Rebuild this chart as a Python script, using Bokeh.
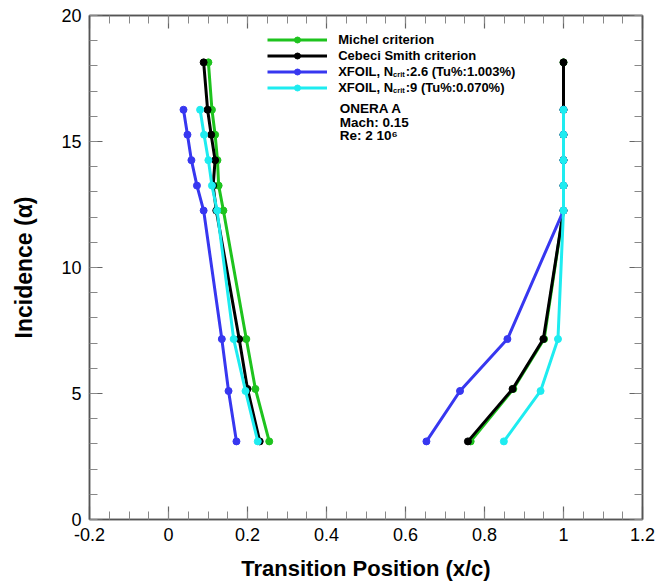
from bokeh.plotting import figure
from bokeh.models import Legend, LegendItem, LinearAxis, FixedTicker, Label, Range1d
from bokeh.embed import file_html
from bokeh.resources import INLINE

# ---------------- data ----------------
alpha_full = [18.14, 16.26, 15.27, 14.26, 13.25, 12.26, 7.16, 5.18, 3.10]
alpha_xfoil = [16.26, 15.27, 14.26, 13.25, 12.26, 7.16, 5.10, 3.10]

michel_left = [0.101, 0.110, 0.118, 0.124, 0.127, 0.139, 0.197, 0.220, 0.255]
michel_right = [1.0, 1.0, 1.0, 1.0, 1.0, 1.0, 0.951, 0.873, 0.765]

cebeci_left = [0.089, 0.099, 0.108, 0.118, 0.113, 0.121, 0.179, 0.200, 0.231]
cebeci_right = [1.0, 1.0, 1.0, 1.0, 1.0, 1.0, 0.949, 0.871, 0.758]

xf26_left = [0.038, 0.048, 0.058, 0.072, 0.089, 0.135, 0.152, 0.172]
xf26_right = [1.0, 1.0, 1.0, 1.0, 1.0, 0.858, 0.738, 0.653]

xf9_left = [0.080, 0.090, 0.101, 0.110, 0.123, 0.165, 0.195, 0.226]
xf9_right = [1.0, 1.0, 1.0, 1.0, 1.0, 0.986, 0.942, 0.849]

x_ticks = [-0.2, 0, 0.2, 0.4, 0.6, 0.8, 1, 1.2]
x_tick_labels = ["-0.2", "0", "0.2", "0.4", "0.6", "0.8", "1", "1.2"]
y_ticks = [0, 5, 10, 15, 20]
y_tick_labels = ["0", "5", "10", "15", "20"]

# legend text: (main, subscript, rest)
series = [
    ("Michel criterion", "", "", "#1ec31e", alpha_full, michel_left, alpha_full, michel_right),
    ("Cebeci Smith criterion", "", "", "#000000", alpha_full, cebeci_left, alpha_full, cebeci_right),
    ("XFOIL, N", "crit", ":2.6 (Tu%:1.003%)", "#3737f0", alpha_xfoil, xf26_left, alpha_xfoil, xf26_right),
    ("XFOIL, N", "crit", ":9 (Tu%:0.070%)", "#1eecf0", alpha_xfoil, xf9_left, alpha_xfoil, xf9_right),
]
info = ["ONERA A", "Mach: 0.15", "Re: 2 10\u2076"]

FONT = "Liberation Sans"
FRAME = "#555555"

p = figure(width=658, height=586, output_backend="svg", toolbar_location=None,
           x_range=Range1d(-0.2, 1.2), y_range=Range1d(0, 20),
           min_border_left=89, min_border_right=16, min_border_top=15, min_border_bottom=67)
p.xgrid.visible = False
p.ygrid.visible = False
p.outline_line_color = FRAME
p.outline_line_width = 1.5
p.background_fill_color = "white"
p.border_fill_color = "white"

x_minor = [round(-0.2 + 0.05 * i, 2) for i in range(29)]
y_minor = list(range(0, 21))


def style_axis(ax, show_labels=True):
    ax.axis_line_color = FRAME
    ax.axis_line_width = 1.5
    ax.major_tick_in = 13
    ax.major_tick_out = 0
    ax.minor_tick_in = 8
    ax.minor_tick_out = 0
    ax.major_tick_line_color = "#666666"
    ax.minor_tick_line_color = "#888888"
    ax.major_tick_line_width = 1.2
    ax.minor_tick_line_width = 1
    if show_labels:
        ax.major_label_text_font = FONT
        ax.major_label_text_font_size = "18px"
        ax.major_label_text_color = "#000000"
        ax.major_label_standoff = 8
        ax.axis_label_text_font = FONT
        ax.axis_label_text_font_style = "bold"
        ax.axis_label_text_font_size = "22px"
        ax.axis_label_text_color = "#000000"
    else:
        ax.major_label_text_font_size = "1px"
        ax.major_label_text_alpha = 0
        ax.major_label_standoff = 0


xa = p.xaxis[0]
xa.ticker = FixedTicker(ticks=x_ticks, minor_ticks=x_minor)
xa.major_label_overrides = dict(zip(x_ticks, x_tick_labels))
xa.axis_label = "Transition Position (x/c)"
style_axis(xa)
xa.axis_label_standoff = 12

ya = p.yaxis[0]
ya.ticker = FixedTicker(ticks=y_ticks, minor_ticks=y_minor)
ya.major_label_overrides = dict(zip(y_ticks, y_tick_labels))
ya.axis_label = "Incidence (\u03b1)"
style_axis(ya)
ya.axis_label_text_font_size = "23px"
ya.axis_label_standoff = 21

top = LinearAxis(ticker=FixedTicker(ticks=x_ticks, minor_ticks=x_minor))
style_axis(top, show_labels=False)
p.add_layout(top, "above")
right = LinearAxis(ticker=FixedTicker(ticks=y_ticks, minor_ticks=y_minor))
style_axis(right, show_labels=False)
p.add_layout(right, "right")

items = []
for main, sub, rest, color, al, xl, ar, xr in series:
    l1 = p.line(xl, al, line_color=color, line_width=3)
    s1 = p.scatter(xl, al, size=7, fill_color=color, line_color=color)
    p.line(xr, ar, line_color=color, line_width=3)
    p.scatter(xr, ar, size=7, fill_color=color, line_color=color)
    items.append(LegendItem(label=main + sub + rest, renderers=[l1, s1]))

# legend: glyph samples drawn by Bokeh's Legend, texts drawn as labels
legend = Legend(items=items, location=(178, 424))
legend.glyph_width = 60
legend.glyph_height = 15
legend.label_height = 15
legend.spacing = 1
legend.padding = 0
legend.margin = 0
legend.label_standoff = 10
legend.border_line_color = None
legend.background_fill_alpha = 0
legend.label_text_alpha = 0
legend.label_text_font_size = "12px"
p.add_layout(legend)

PX_X = 1.4 / 553.0   # data units per pixel (x)
PX_Y = 20.0 / 504.0  # data units per pixel (y)
LEG_FS = 13
x0 = (338 - 168.3) * PX_X
row_y0 = 19.03
for i, (main, sub, rest, *_r) in enumerate(series):
    yv = row_y0 - i * 16 * PX_Y
    p.add_layout(Label(x=x0, y=yv, text=main, text_font=FONT, text_font_style="bold",
                       text_font_size=f"{LEG_FS}px", text_baseline="middle", text_color="#000000"))
    if sub:
        w_main = 4.223 * LEG_FS            # width of "XFOIL, N" (Arial bold em units)
        w_sub = 1.556 * 7.5 + 1.0          # width of "crit" at 7.5px
        p.add_layout(Label(x=x0 + w_main * PX_X, y=yv - 3 * PX_Y, text=sub, text_font=FONT,
                           text_font_style="bold", text_font_size="7.5px",
                           text_baseline="middle", text_color="#000000"))
        p.add_layout(Label(x=x0 + (w_main + w_sub) * PX_X, y=yv, text=rest, text_font=FONT,
                           text_font_style="bold", text_font_size=f"{LEG_FS}px",
                           text_baseline="middle", text_color="#000000"))

for i, t in enumerate(info):
    p.add_layout(Label(x=0.4336, y=16.32 - 0.55 * i, text=t, text_font=FONT,
                       text_font_style="bold", text_font_size="13.5px",
                       text_baseline="middle", text_color="#000000"))

open("out.html", "w").write(file_html(p, INLINE))
